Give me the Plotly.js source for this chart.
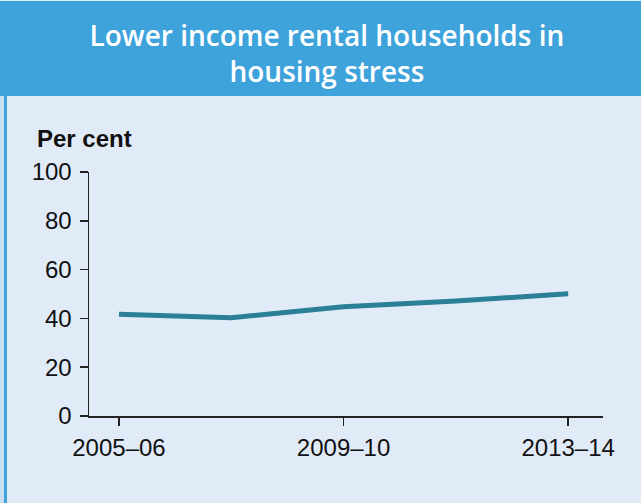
<!DOCTYPE html>
<html>
<head>
<meta charset="utf-8">
<script src="https://cdn.plot.ly/plotly-3.0.1.min.js"></script>
<style>
  html, body { margin: 0; padding: 0; background: #E1EBF7; }
  #chart { width: 641px; height: 503px; }
</style>
</head>
<body>
<div id="chart"></div>
<script>
// Financial years and share of lower income renters in housing stress (%)
const years = ['2005–06', '2007–08', '2009–10', '2011–12', '2013–14'];
const stressShare = [41.7, 40.3, 44.8, 47.1, 50.1];
const xTickLabels = ['2005–06', '2009–10', '2013–14'];
const yTickValues = [0, 20, 40, 60, 80, 100];

const W = 641, H = 503;
const M = { l: 89, r: 38, t: 172, b: 87 };
const plotW = W - M.l - M.r, plotH = H - M.t - M.b;
// convert page pixels to paper coordinates for the decorative panel shapes
const px = v => (v - M.l) / plotW;
const py = v => (H - M.b - v) / plotH;

const band = '#3FA3DB';
const axisFont = { family: 'Liberation Sans, Arial, sans-serif', size: 24, color: '#111' };

const trace = {
  x: years,
  y: stressShare,
  type: 'scatter',
  mode: 'lines',
  line: { color: '#2B7F97', width: 5 },
  hoverinfo: 'x+y'
};

const layout = {
  width: W,
  height: H,
  margin: M,
  paper_bgcolor: '#E1EBF7',
  plot_bgcolor: '#E1EBF7',
  showlegend: false,
  font: axisFont,
  title: {
    text: 'Lower income rental households in<br>housing stress',
    font: { family: 'Open Sans, sans-serif', size: 28, weight: 600, color: '#FFFFFF' },
    x: 0.51, xanchor: 'center',
    y: 1 - 46 / H, yanchor: 'middle', yref: 'container'
  },
  xaxis: {
    type: 'category',
    range: [-0.267, 4.31],
    tickvals: xTickLabels,
    ticktext: xTickLabels,
    ticks: 'outside', ticklen: 8, tickwidth: 1.5, tickcolor: '#222',
    ticklabelstandoff: 2,
    showline: true, linecolor: '#222', linewidth: 1.5,
    showgrid: false, zeroline: false,
    tickfont: axisFont,
    fixedrange: true
  },
  yaxis: {
    range: [0, 100],
    tickvals: yTickValues,
    ticks: 'outside', ticklen: 8, tickwidth: 1.5, tickcolor: '#222',
    ticklabelstandoff: 3,
    showline: true, linecolor: '#222', linewidth: 1.5,
    showgrid: false, zeroline: false,
    tickfont: axisFont,
    fixedrange: true
  },
  annotations: [{
    text: '<b>Per cent</b>',
    xref: 'paper', yref: 'paper',
    x: px(35), y: py(138),
    xanchor: 'left', yanchor: 'middle',
    showarrow: false,
    font: axisFont
  }],
  shapes: [
    // header band
    { type: 'rect', xref: 'paper', yref: 'paper', layer: 'below',
      x0: px(0), x1: px(W), y0: py(96), y1: py(1),
      fillcolor: band, line: { width: 0 } },
    // left edge of the panel
    { type: 'rect', xref: 'paper', yref: 'paper', layer: 'below',
      x0: px(0), x1: px(4), y0: py(H), y1: py(96),
      fillcolor: '#C9DEF1', line: { width: 0 } },
    { type: 'rect', xref: 'paper', yref: 'paper', layer: 'below',
      x0: px(4), x1: px(7), y0: py(H), y1: py(96),
      fillcolor: band, line: { width: 0 } }
  ]
};

Plotly.newPlot('chart', [trace], layout, { displayModeBar: false, staticPlot: true });
</script>
</body>
</html>
